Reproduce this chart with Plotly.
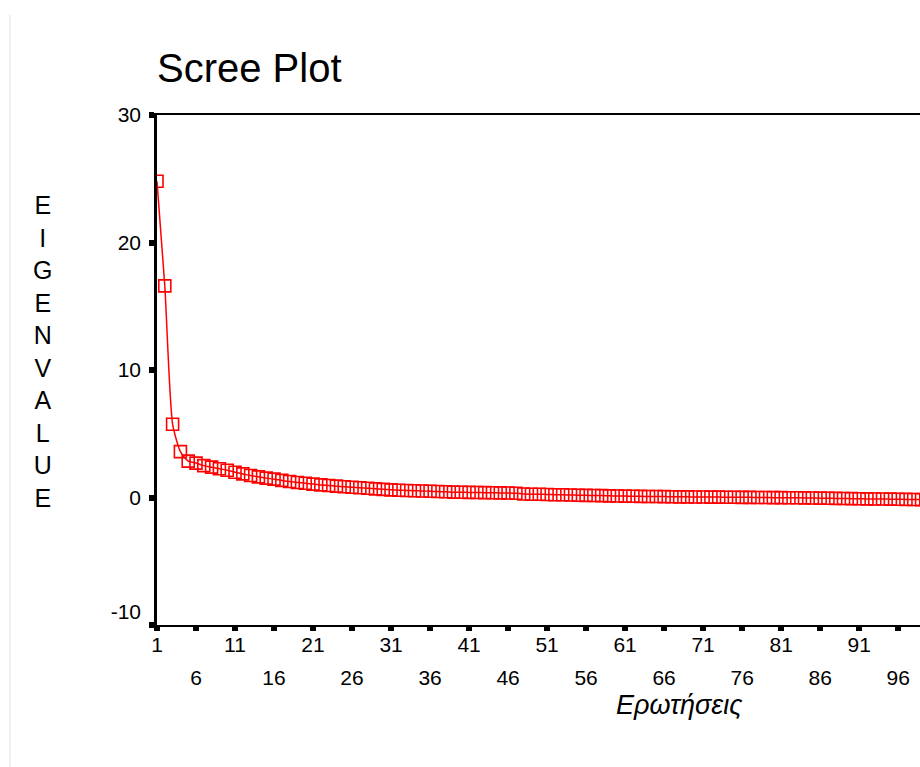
import plotly.graph_objects as go

# Component numbers and their eigenvalues
components = list(range(1, 101))
eigenvalues = [
    24.8, 16.6, 5.75, 3.6, 2.85, 2.7, 2.5, 2.38, 2.25, 2.14,
    1.98, 1.85, 1.72, 1.62, 1.52, 1.44, 1.34, 1.25, 1.18, 1.12,
    1.05, 0.99, 0.94, 0.89, 0.84, 0.80, 0.76, 0.72, 0.68, 0.64,
    0.60, 0.57, 0.55, 0.53, 0.51, 0.49, 0.47, 0.45, 0.42, 0.41,
    0.40, 0.39, 0.38, 0.37, 0.36, 0.35, 0.33, 0.28, 0.26, 0.25,
    0.24, 0.22, 0.21, 0.20, 0.18, 0.17, 0.16, 0.15, 0.13, 0.12,
    0.11, 0.10, 0.09, 0.08, 0.08, 0.07, 0.06, 0.05, 0.05, 0.04,
    0.04, 0.03, 0.03, 0.02, 0.02, 0.01, 0.01, 0.00, 0.00, -0.01,
    -0.01, -0.02, -0.02, -0.03, -0.04, -0.05, -0.06, -0.07, -0.08, -0.09,
    -0.10, -0.11, -0.12, -0.12, -0.13, -0.14, -0.15, -0.16, -0.17, -0.18,
]

# x ticks every 5 components; labels alternate between two rows
x_tick_all = list(range(1, 100, 5))
x_ticks_row1 = [1, 11, 21, 31, 41, 51, 61, 71, 81, 91]
x_ticks_row2 = [6, 16, 26, 36, 46, 56, 66, 76, 86, 96]
y_ticks = [-10, 0, 10, 20, 30]
# the bottom label sits a half line higher, clear of the x labels
y_tick_text = ["-10<br> ", "0", "10", "20", "30"]

x_range = [1, 98.8]
y_range = [-10, 30]

FONT = "Liberation Sans, Arial, sans-serif"
RED = "#ff0000"
TICK_SIZE = 21

fig = go.Figure()
fig.add_trace(go.Scatter(
    x=components,
    y=eigenvalues,
    mode="lines+markers",
    line=dict(color=RED, width=1.5, shape="spline", smoothing=0.6),
    marker=dict(symbol="square-open", size=12, color=RED, line=dict(width=1.6, color=RED)),
    showlegend=False,
    hoverinfo="x+y",
))

tickfont = dict(family=FONT, size=TICK_SIZE, color="black")

fig.update_layout(
    width=920, height=767,
    margin=dict(l=157, r=0, t=115, b=142),
    paper_bgcolor="white", plot_bgcolor="white",
    font=dict(family=FONT, color="black"),
    title=dict(
        text="Scree Plot",
        x=0, xref="paper", xanchor="left",
        y=1 - 68 / 767, yref="container", yanchor="middle",
        font=dict(family=FONT, size=40, color="black"),
    ),
    # first row of labels (no tick marks of its own)
    xaxis=dict(
        range=x_range,
        tickvals=x_ticks_row1, ticktext=[str(v) for v in x_ticks_row1],
        ticks="", tickfont=tickfont,
        showline=True, linecolor="black", linewidth=2, mirror=True,
        showgrid=False, zeroline=False,
    ),
    # tick marks every 5 plus the second row of labels
    xaxis2=dict(
        range=x_range,
        overlaying="x", anchor="y", side="bottom",
        tickvals=x_tick_all,
        ticktext=[str(v) if v in x_ticks_row2 else "" for v in x_tick_all],
        ticks="outside", ticklen=5, tickwidth=6, tickcolor="black",
        tickfont=tickfont, ticklabelstandoff=29,
        showline=False, showgrid=False, zeroline=False,
    ),
    yaxis=dict(
        range=y_range, tickvals=y_ticks, ticktext=y_tick_text,
        showline=True, linecolor="black", linewidth=2.5,
        ticks="outside", ticklen=5, tickwidth=6, tickcolor="black",
        tickfont=tickfont, ticklabelstandoff=4,
        showgrid=False, zeroline=False,
    ),
)

# Invisible carrier so the second x axis is drawn
fig.add_trace(go.Scatter(
    x=[x_ticks_row2[0]], y=[y_range[0]], xaxis="x2", mode="markers",
    marker=dict(opacity=0), showlegend=False, hoverinfo="skip",
))

# Stacked vertical axis title
fig.add_annotation(
    text="<br>".join("EIGENVALUE"),
    xref="paper", yref="paper", x=(42 - 157) / 763, y=(625 - 351) / 510,
    xanchor="center", yanchor="middle", showarrow=False,
    font=dict(family=FONT, size=25, color="black"),
)

# Horizontal axis title
fig.add_annotation(
    text="<i>Ερωτήσεις</i>",
    xref="paper", yref="paper", x=(679 - 157) / 763, y=(625 - 705) / 510,
    xanchor="center", yanchor="middle", showarrow=False,
    font=dict(family=FONT, size=27, color="black"),
)

# Thin page border line on the left
fig.add_shape(
    type="line", xref="paper", yref="paper",
    x0=(10 - 157) / 763, x1=(10 - 157) / 763,
    y0=(625 - 15) / 510, y1=(625 - 767) / 510,
    line=dict(color="#e0e0e0", width=1),
)

fig.write_html("out.html")
